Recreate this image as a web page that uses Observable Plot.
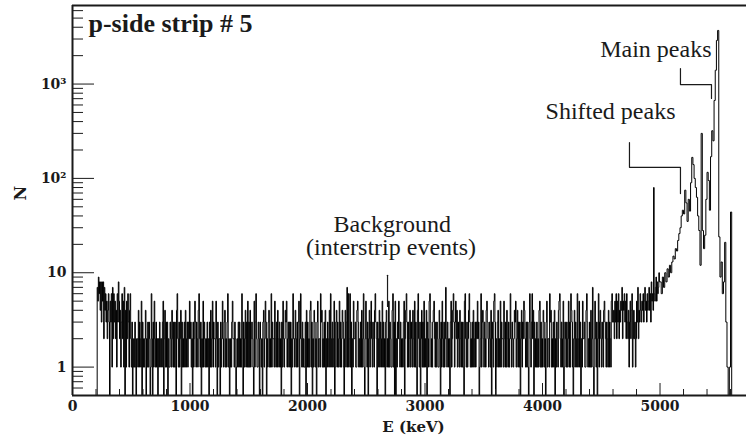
<!DOCTYPE html>
<html><head><meta charset="utf-8">
<script src="https://cdn.jsdelivr.net/npm/d3@7"></script>
<script src="https://cdn.jsdelivr.net/npm/@observablehq/plot@0.6"></script>
<style>
html,body{margin:0;padding:0;background:#fff;}
#chart svg{display:block;}
</style></head><body><div id="chart"></div>
<script>
// Background part of the spectrum: 5 keV bins from 200 keV, one digit per bin (counts 0-9)
const bgStart = 200;
const bgWidth = 5;
const bg0200 = "00759684838582746352 4630536172 6352416385 2413625170 4152631462 " +
  "1301213102 2141321503 1212402131 3201620315 2131202132 " +
  "1213502413 1302113214 2131310462 1312403121 3141231325";
const bg1000 = "2312031253 1321462130 2151321213 1203141251 3221520312 " +
  "2031252134 1213612012 1352213201 2131312162 0312413151 " +
  "3141232105 1362113203 2120341253 0213412161 3221521314 " +
  "2131203152 1243512313 1302162214 2131350262 1312113041";
const bg2000 = "3121451302 1431203512 2163412131 4021321416 2131250134 " +
  "1312513124 3102413716 1261302152 2311453121 3141261025 " +
  "2130241352 1321463203 2141321513 1203412151 3211461305 " +
  "0213252132 1213502463 1312413214 2151310462 1302413151";
const bg3000 = "2140321563 1213452131 3211420315 2131272132 1203512463 " +
  "1352413214 2131310562 1312463121 3141231325 2301261342 " +
  "1321453213 2140321563 0213412151 3221521314 2131262132 " +
  "1243512413 1302413254 2131310362 1362403121 3121451312";
const bg4000 = "1431203512 2163412131 4021321456 2131250132 1312513164 3102413216 " +
  "1251302152 2311463121 3141271025 2130261342 1321453213 2141321563 " +
  "3425362536 2435472546 3526324135 2461242312";

// Rising edge: 5 keV bins from 4800 keV
const riseStart = 4800;
const riseWidth = 5;
const counts4800 = [5,3,7,2,4,3,6,4,3,5, 4,6,3,5,7,4,5,3,6,4,
                    5,7,4,6,3,8,5,6,4,80, 6,5,7,9,5,8,6,7,10,8];

// Peak part of the spectrum: 10 keV bins from 5000 keV
const peakStart = 5000;
const peakWidth = 10;
const counts5000 = [
8,6,9,7,10,8,11,9,12,10,
13,15,14,18,17,22,26,30,40,46,
42,75,55,35,60,45,90,167,140,100,
80,63,40,28,12,300,28,18,25,60,
116,95,46,170,320,250,670,1400,2900,3700,
24,9,13,6,8,21,3,1,0,1,
44,0,0,0,0,0,0,0,0,0,0,0,0,0];

// Axes
const xDomain = [0, 5736];
const yDomain = [0.5, 6800];
const xTickValues = [0, 1000, 2000, 3000, 4000, 5000];
const xMinorTickValues = [200,400,600,800,1200,1400,1600,1800,2200,2400,2600,2800,3200,3400,3600,3800,4200,4400,4600,4800,5200,5400,5600];
const yTickValues = [1, 10, 100, 1000];
const yTickLabels = ["1", "10", "10²", "10³"];
const yMinorTickValues = [0.6,0.7,0.8,0.9,2,3,4,5,6,7,8,9,20,30,40,50,60,70,80,90,200,300,400,500,600,700,800,900,2000,3000,4000,5000,6000];

// Annotations (in data units: E in keV, N in counts)
const annotationTexts = ["Main peaks", "Shifted peaks", "Background", "(interstrip events)"];
const annotationE = [5438, 5132, 2721, 2711];
const annotationN = [1921, 431, 27, 15.3];
const annotationAnchor = ["end", "end", "middle", "middle"];
const mainPointerE = [5174, 5174, 5438, 5438];
const mainPointerN = [1459, 988, 988, 703];
const shiftedPointerE = [4740, 4740, 5174, 5174];
const shiftedPointerN = [240, 131, 131, 69];
const backgroundPointerE = [2681, 2681];
const backgroundPointerN = [9.4, 4.4];

const digits = s => s.replace(/\s/g, "").split("").map(Number);
const bgCounts = [bg0200, bg1000, bg2000, bg3000, bg4000].flatMap(digits);
const segment = (start, width, counts) => counts.map((n, i) => ({E: start + i * width, N: n}));
const hist = [
  ...segment(bgStart, bgWidth, bgCounts),
  ...segment(riseStart, riseWidth, counts4800),
  ...segment(peakStart, peakWidth, counts5000)
];
hist.push({E: peakStart + counts5000.length * peakWidth, N: counts5000[counts5000.length - 1]});
const floorN = 0.1; // empty bins drop below the axis (log scale)

const pts = (E, N) => E.map((e, i) => ({E: e, N: N[i]}));
const annotations = annotationTexts.map((t, i) => ({t, E: annotationE[i], N: annotationN[i], a: annotationAnchor[i]}));

const W = 746, H = 436, mL = 72, mR = 0, mT = 5, mB = 41;
const plotW = W - mL - mR, plotH = H - mT - mB;
const serifBold = "DejaVu Serif";
const times = "Liberation Serif, Times New Roman, serif";
const tickFont = {fontFamily: serifBold, fontWeight: "bold", fontSize: 14};
const ink = "#1a1a1a";
const annText = {x: "E", y: "N", text: "t", lineAnchor: "bottom", fill: ink, fontFamily: times, fontSize: 24};

const chart = Plot.plot({
  width: W, height: H,
  marginLeft: mL, marginRight: mR, marginTop: mT, marginBottom: mB,
  style: {fontFamily: serifBold, background: "#fff", color: ink},
  x: {domain: xDomain, label: null},
  y: {type: "log", domain: yDomain, label: null},
  marks: [
    Plot.line(hist, {x: "E", y: d => Math.max(d.N, floorN), curve: "step-after", stroke: "#000", strokeWidth: 1, clip: true}),
    // ticks inside the frame
    Plot.ruleY(yTickValues, {insetRight: plotW - 22, stroke: ink, strokeWidth: 1}),
    Plot.ruleY(yMinorTickValues, {insetRight: plotW - 11, stroke: ink, strokeWidth: 1}),
    Plot.ruleX(xTickValues, {insetTop: plotH - 12, stroke: ink, strokeWidth: 1}),
    Plot.ruleX(xMinorTickValues, {insetTop: plotH - 6, stroke: ink, strokeWidth: 1}),
    // frame (left, top, bottom)
    Plot.ruleX([xDomain[0]], {stroke: ink, strokeWidth: 2}),
    Plot.ruleY(yDomain, {stroke: ink, strokeWidth: 2}),
    // tick labels
    Plot.axisX(xTickValues, {tickSize: 0, tickPadding: 6, label: null, fill: ink, tickFormat: d => String(d), ...tickFont}),
    Plot.axisY(yTickValues, {tickSize: 0, tickPadding: 6, label: null, fill: ink,
      tickFormat: d => yTickLabels[yTickValues.indexOf(d)], ...tickFont}),
    // axis titles
    Plot.text(["E (keV)"], {text: d => d, frameAnchor: "bottom", dx: 4, dy: 36, lineAnchor: "bottom",
      fill: ink, fontFamily: serifBold, fontWeight: "bold", fontSize: 15}),
    Plot.text(["N"], {text: d => d, frameAnchor: "left", dx: -52, rotate: -90,
      fill: ink, fontFamily: serifBold, fontWeight: "bold", fontSize: 16}),
    // title
    Plot.text(["p-side strip # 5"], {text: d => d, frameAnchor: "top-left", dx: 16, dy: 8, lineAnchor: "top", textAnchor: "start",
      fill: ink, fontFamily: times, fontWeight: "bold", fontSize: 26}),
    // annotations
    Plot.line(pts(mainPointerE, mainPointerN), {x: "E", y: "N", stroke: ink, strokeWidth: 1.2}),
    Plot.line(pts(shiftedPointerE, shiftedPointerN), {x: "E", y: "N", stroke: ink, strokeWidth: 1.2}),
    Plot.line(pts(backgroundPointerE, backgroundPointerN), {x: "E", y: "N", stroke: ink, strokeWidth: 1.2}),
    Plot.text(annotations, {...annText, filter: d => d.a === "end", textAnchor: "end"}),
    Plot.text(annotations, {...annText, filter: d => d.a === "middle", textAnchor: "middle"})
  ]
});
document.getElementById("chart").appendChild(chart);
</script>
</body></html>
